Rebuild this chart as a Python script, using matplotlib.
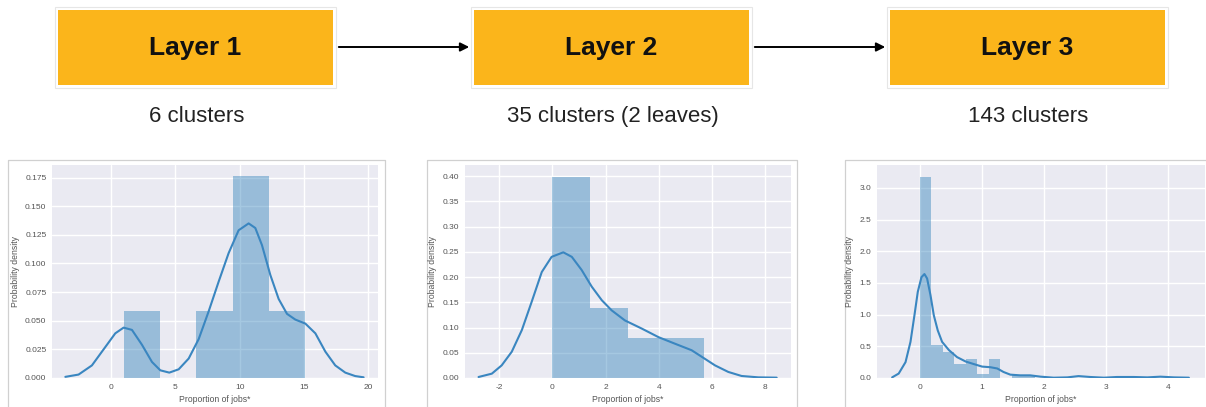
import numpy as np
import matplotlib
matplotlib.use("Agg")
import matplotlib.pyplot as plt
import seaborn as sns
from matplotlib.patches import Rectangle

sns.set_style("darkgrid")
plt.rcParams['font.family'] = ['Liberation Sans', 'DejaVu Sans']
plt.rcParams['axes.unicode_minus'] = False

# --- data ---
layer_titles = ["Layer 1", "Layer 2", "Layer 3"]
layer_notes = ["6 clusters", "35 clusters (2 leaves)", "143 clusters"]

# layer 1
h1_start, h1_width = 0.96, 2.83
h1_heights = [0.0586, 0.0, 0.0586, 0.176, 0.0586]
k1_x = [-3.58, -2.55, -1.51, -0.47, 0.31, 0.96, 1.61, 2.39, 3.17, 3.82, 4.52, 5.25, 6.03,
        6.81, 7.58, 8.36, 9.14, 9.92, 10.7, 11.22, 11.74, 12.39, 13.04, 13.69, 14.34, 15.12,
        15.9, 16.68, 17.45, 18.23, 19.0, 19.66]
k1_y = [0.001, 0.003, 0.011, 0.027, 0.039, 0.044, 0.042, 0.029, 0.014, 0.0067, 0.0047,
        0.0076, 0.017, 0.034, 0.058, 0.084, 0.109, 0.129, 0.135, 0.131, 0.116, 0.090, 0.069,
        0.056, 0.051, 0.0475, 0.039, 0.023, 0.011, 0.0047, 0.0017, 0.0006]

# layer 2
h2_start, h2_width = 0.0, 1.43
h2_heights = [0.399, 0.139, 0.079, 0.079]
k2_x = [-2.78, -2.28, -1.91, -1.53, -1.15, -0.78, -0.40, -0.03, 0.41, 0.73, 1.10, 1.48,
        1.86, 2.23, 2.73, 3.36, 3.99, 4.61, 5.24, 5.68, 6.12, 6.62, 7.12, 7.75, 8.44]
k2_y = [0.002, 0.0086, 0.025, 0.052, 0.095, 0.151, 0.210, 0.240, 0.249, 0.240, 0.214, 0.181,
        0.154, 0.134, 0.114, 0.098, 0.081, 0.068, 0.055, 0.040, 0.025, 0.012, 0.004, 0.0013,
        0.0007]

# layer 3
h3_start, h3_width = 0.0, 0.1855
h3_heights = [3.17, 0.516, 0.41, 0.226, 0.295, 0.068, 0.295, 0.0, 0.04, 0.055]
k3_x = [-0.446, -0.34, -0.23, -0.15, -0.086, -0.032, 0.027, 0.075, 0.118, 0.172, 0.226,
        0.29, 0.36, 0.47, 0.60, 0.74, 0.87, 1.005, 1.14, 1.25, 1.35, 1.46, 1.62, 1.78, 1.95,
        2.16, 2.38, 2.56, 2.75, 2.97, 3.18, 3.45, 3.67, 3.88, 4.10, 4.34]
k3_y = [0.01, 0.07, 0.25, 0.57, 0.99, 1.36, 1.59, 1.64, 1.57, 1.31, 0.99, 0.75, 0.57, 0.44,
        0.33, 0.26, 0.22, 0.18, 0.17, 0.15, 0.095, 0.053, 0.042, 0.042, 0.021, 0.005, 0.01,
        0.03, 0.016, 0.005, 0.016, 0.016, 0.01, 0.021, 0.01, 0.005]

panels = [
    (h1_start, h1_width, h1_heights, k1_x, k1_y, (-4.62, 20.78), (0, 0.186), [0, 5, 10, 15, 20],
     [0, 0.025, 0.05, 0.075, 0.1, 0.125, 0.15, 0.175], "{:.3f}"),
    (h2_start, h2_width, h2_heights, k2_x, k2_y, (-3.29, 8.98), (0, 0.422), [-2, 0, 2, 4, 6, 8],
     [0, 0.05, 0.1, 0.15, 0.2, 0.25, 0.3, 0.35, 0.4], "{:.2f}"),
    (h3_start, h3_width, h3_heights, k3_x, k3_y, (-0.69, 4.60), (0, 3.36), [0, 1, 2, 3, 4],
     [0, 0.5, 1.0, 1.5, 2.0, 2.5, 3.0], "{:.1f}"),
]

W, H = 1206, 407
fig = plt.figure(figsize=(W / 100, H / 100), dpi=100)
fig.patch.set_facecolor("white")

# overlay in pixel coordinates for the diagram part
ov = fig.add_axes([0, 0, 1, 1])
ov.set_xlim(0, W)
ov.set_ylim(H, 0)
ov.axis("off")

box_left = [58, 474, 890]
box_w, box_top, box_h = 275, 10, 75
for i in range(3):
    ov.add_patch(Rectangle((box_left[i] - 3, box_top - 3), box_w + 6, box_h + 6,
                           facecolor="white", edgecolor="#e6e6e6", lw=0.8))
    ov.add_patch(Rectangle((box_left[i], box_top), box_w, box_h,
                           facecolor="#FBB51B", edgecolor="none"))
    ov.text(box_left[i] + box_w / 2, box_top + box_h / 2 + 1, layer_titles[i],
            ha="center", va="center", fontsize=19, fontweight="bold", color="#111111")
    ov.text(box_left[i] + box_w / 2 + 1, 122, layer_notes[i],
            ha="center", va="baseline", fontsize=16, color="#222222")
for i in range(2):
    ov.annotate("", xy=(box_left[i + 1] - 2, 47), xytext=(box_left[i] + box_w + 3, 47),
                arrowprops=dict(arrowstyle="-|>", color="black", lw=1.4, mutation_scale=13))

# screenshot frames
frames = [(8, 385), (427, 797), (845, 1210)]
for l, r in frames:
    ov.plot([l, l, r, r], [H + 5, 160, 160, H + 5], color="#d0d0d0", lw=0.9)

ax_px = [(52, 378), (465, 791), (877, 1205)]
ax_top, ax_bot = 165, 378
for (l, r), (hs, hw, hh, kx, ky, xl, yl, xt, yt, fmt) in zip(ax_px, panels):
    ax = fig.add_axes([l / W, 1 - ax_bot / H, (r - l) / W, (ax_bot - ax_top) / H])
    ax.set_facecolor("#EAEAF2")
    edges = hs + hw * np.arange(len(hh))
    ax.bar(edges, hh, width=hw, align="edge", color="#1f77b4", alpha=0.4,
           edgecolor="none", lw=0)
    ax.plot(kx, ky, color="#3a86c0", lw=1.5, solid_joinstyle="round")
    ax.set_xlim(*xl)
    ax.set_ylim(*yl)
    ax.set_xticks(xt)
    ax.set_yticks(yt)
    ax.set_yticklabels([fmt.format(v) for v in yt])
    ax.grid(True, color="white", lw=1.0)
    ax.set_axisbelow(True)
    ax.tick_params(length=0, labelsize=6.0, labelcolor="#555555", pad=4)
    ax.set_xlabel("Proportion of jobs*", fontsize=6.2, color="#555555", labelpad=3)
    ax.set_ylabel("Probability density", fontsize=6.2, color="#555555", labelpad=4)
    for s in ax.spines.values():
        s.set_visible(False)

fig.savefig("out.png", dpi=100, facecolor="white")
